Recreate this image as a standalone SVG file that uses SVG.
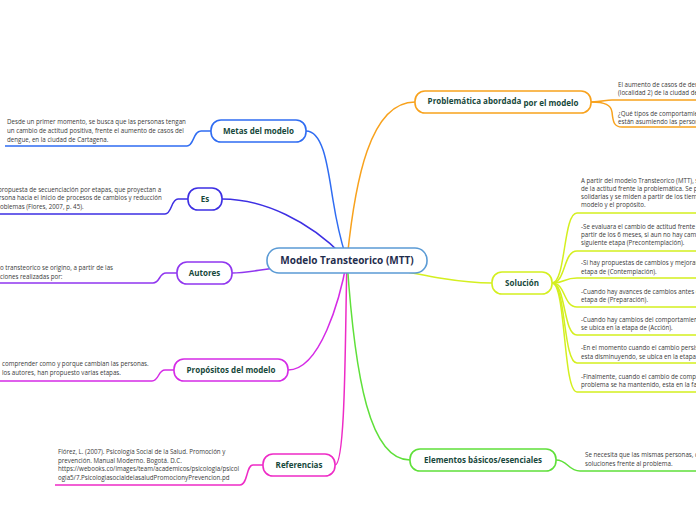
<svg xmlns="http://www.w3.org/2000/svg" width="696" height="520" viewBox="0 0 696 520">
<style>
.node rect{fill:#fff;stroke-width:1.6}
.lbl{font-family:"Open Sans","Noto Sans",sans-serif;font-weight:bold;font-size:8px;fill:#17483b;text-anchor:middle}
.body{font-family:"Open Sans","Noto Sans",sans-serif;font-size:6.2px;fill:#3a3a3a}
.c path{fill:none;stroke-width:1.5}
</style>
<rect width="696" height="520" fill="#fff"/>
<g id="connectors" class="c">
<path d="M306,131 C324,131 328,170 333,200 C337,225 342,245 347,260" stroke="#2f6cf2"/>
<path d="M222,199 C262,199 310,220 347,260" stroke="#3d2fe3"/>
<path d="M232,273 C252,273 260,268 347,260" stroke="#9036ef"/>
<path d="M288,370 C320,370 340,300 347,260" stroke="#d52be6"/>
<path d="M335,465 C346,465 345,330 347,260" stroke="#ee2bc6"/>
<path d="M347,260 C355,180 370,102 415,102" stroke="#f8a21d"/>
<path d="M347,260 C400,270 450,283 492,283" stroke="#d4ef1f"/>
<path d="M347,260 C355,380 370,460 410,460" stroke="#5fe03a"/>
<path d="M5,146 H187 C194,146 193,131 201,131 H211" stroke="#2f6cf2"/>
<path d="M0,214 H165 C172,214 171,199 178,199 H188" stroke="#3d2fe3"/>
<path d="M0,283 H153 C160,283 159,273 166,273 H177" stroke="#9036ef"/>
<path d="M0,381 H152 C159,381 158,370 165,370 H174" stroke="#d52be6"/>
<path d="M55,485 H240 C248,485 246,465 253,465 H263" stroke="#ee2bc6"/>
<path d="M591,102 C602,102 605,100 612,100 H696" stroke="#f8a21d"/>
<path d="M591,102 C605,102 611,105 612,112 C613,122 614,127 622,127 H696" stroke="#f8a21d"/>
<path d="M552,283 C566,283 563,213 577,213 H696" stroke="#d4ef1f"/>
<path d="M552,283 C566,283 563,251 577,251 H696" stroke="#d4ef1f"/>
<path d="M552,283 C566,283 563,278 577,278 H696" stroke="#d4ef1f"/>
<path d="M552,283 C566,283 563,307 577,307 H696" stroke="#d4ef1f"/>
<path d="M552,283 C566,283 563,335 577,335 H696" stroke="#d4ef1f"/>
<path d="M552,283 C566,283 563,363 577,363 H696" stroke="#d4ef1f"/>
<path d="M552,283 C566,283 563,392 577,392 H696" stroke="#d4ef1f"/>
<path d="M556,460 C568,460 568,471 580,471 H696" stroke="#5fe03a"/>
</g>
<g id="central" class="node">
<rect x="267" y="248" width="160" height="25" rx="12" stroke="#5b9bd5"/>
<text x="347" y="264" style="font-family:'Open Sans','Noto Sans',sans-serif;font-weight:bold;font-size:10px;fill:#1f2d4d;text-anchor:middle">Modelo Transteorico (MTT)</text>
</g>
<g id="metas" class="node">
<rect x="211" y="120" width="95" height="22" rx="10" stroke="#2f6cf2"/>
<text class="lbl" x="258.5" y="134">Metas del modelo</text>
<text class="body"><tspan x="7" y="124">Desde un primer momento, se busca que las personas tengan</tspan><tspan x="7" y="133">un cambio de actitud positiva, frente el aumento de casos del</tspan><tspan x="7" y="142">dengue, en la ciudad de Cartagena.</tspan></text>
</g>
<g id="es" class="node">
<rect x="188" y="188" width="34" height="22" rx="10" stroke="#3d2fe3"/>
<text class="lbl" x="205" y="202">Es</text>
<text class="body"><tspan x="-2" y="192">propuesta de secuenciación por etapas, que proyectan a</tspan><tspan x="-1" y="200">rsona hacia el inicio de procesos de cambios y reducción</tspan><tspan x="0" y="209">oblemas (Flores, 2007, p. 45).</tspan></text>
</g>
<g id="autores" class="node">
<rect x="177" y="262" width="55" height="22" rx="10" stroke="#9036ef"/>
<text class="lbl" x="204.5" y="276">Autores</text>
<text class="body"><tspan x="0" y="270">o transteorico se origino, a partir de las</tspan><tspan x="0" y="278.5">ciones realizadas por:</tspan></text>
</g>
<g id="propositos" class="node">
<rect x="174" y="359" width="114" height="22" rx="10" stroke="#d52be6"/>
<text class="lbl" x="231" y="373">Propósitos del modelo</text>
<text class="body"><tspan x="2" y="366">comprender como y porque cambian las personas.</tspan><tspan x="2" y="375">los autores, han propuesto varias etapas.</tspan></text>
</g>
<g id="referencias" class="node">
<rect x="263" y="454" width="72" height="22" rx="10" stroke="#ee2bc6"/>
<text class="lbl" x="299" y="468">Referencias</text>
<text class="body"><tspan x="58" y="454">Flórez, L. (2007). Psicología Social de la Salud. Promoción y</tspan><tspan x="58" y="463">prevención. Manual Moderno. Bogotá. D.C.</tspan><tspan x="58" y="471">https://webooks.co/images/team/academicos/psicologia/psicol</tspan><tspan x="58" y="480">ogia5/7.PsicologiasocialdelasaludPromocionyPrevencion.pd</tspan></text>
</g>
<g id="problematica" class="node">
<rect x="415" y="91" width="176" height="22" rx="10" stroke="#f8a21d"/>
<text class="lbl" x="503" y="104">Problemática abordada <tspan dy="2">por el modelo</tspan></text>
<text class="body"><tspan x="618" y="87">El aumento de casos de den</tspan><tspan x="618" y="95">(localidad 2) de la ciudad de</tspan><tspan x="618" y="116">¿Qué tipos de comportamien</tspan><tspan x="618" y="124">están asumiendo las person</tspan></text>
</g>
<g id="solucion" class="node">
<rect x="492" y="272" width="60" height="22" rx="10" stroke="#d4ef1f"/>
<text class="lbl" x="522" y="286">Solución</text>
<text class="body"><tspan x="581" y="183">A partir del modelo Transteorico (MTT), se</tspan><tspan x="581" y="191">de la actitud frente la problemática. Se pr</tspan><tspan x="581" y="199">solidarias y se miden a partir de los tiemp</tspan><tspan x="581" y="207">modelo y el propósito.</tspan><tspan x="581" y="229">-Se evaluara el cambio de actitud frente la</tspan><tspan x="581" y="237">partir de los 6 meses, si aun no hay camb</tspan><tspan x="581" y="245">siguiente etapa (Precontemplación).</tspan><tspan x="581" y="265">-Si hay propuestas de cambios y mejoram</tspan><tspan x="581" y="274">etapa de (Contemplación).</tspan><tspan x="581" y="294">-Cuando hay avances de cambios antes d</tspan><tspan x="581" y="302">etapa de (Preparación).</tspan><tspan x="581" y="322">-Cuando hay cambios del comportamiento</tspan><tspan x="581" y="330">se ubica en la etapa de (Acción).</tspan><tspan x="581" y="350">-En el momento cuando el cambio persist</tspan><tspan x="581" y="359">esta disminuyendo, se ubica en la etapa d</tspan><tspan x="581" y="379">-Finalmente, cuando el cambio de compor</tspan><tspan x="581" y="387">problema se ha mantenido, esta en la fas</tspan></text>
</g>
<g id="elementos" class="node">
<rect x="410" y="449" width="146" height="22" rx="10" stroke="#5fe03a"/>
<text class="lbl" x="483" y="463">Elementos básicos/esenciales</text>
<text class="body"><tspan x="585" y="457">Se necesita que las mismas personas, c</tspan><tspan x="585" y="466">soluciones frente al problema.</tspan></text>
</g>
</svg>
